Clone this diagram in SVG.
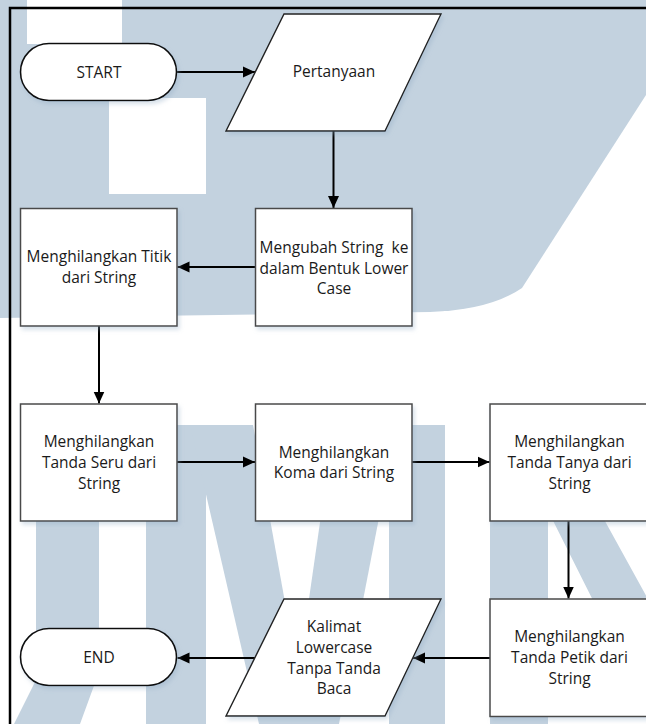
<svg xmlns="http://www.w3.org/2000/svg" width="646" height="724" viewBox="0 0 646 724">
  <style>
    .wm { fill: #c3d2df; }
    .wmw { fill: #ffffff; }
    .box { fill: #ffffff; stroke: #4a4a4a; stroke-width: 1.5; filter: url(#shade); }
    .term { fill: #ffffff; stroke: #111111; stroke-width: 1.6; filter: url(#shade); }
    .io { fill: #ffffff; stroke: #222222; stroke-width: 1.4; filter: url(#shade); }
    .lbl { font-family: "Open Sans", "Liberation Sans", sans-serif; font-size: 15.5px; fill: #1a1a1a; text-anchor: middle; }
    .conn path { fill: none; stroke: #000000; stroke-width: 2; marker-end: url(#arrow); }
  </style>
  <defs>
    <marker id="arrow" markerUnits="userSpaceOnUse" markerWidth="13" markerHeight="12" refX="12" refY="6" orient="auto">
      <path d="M0,0.5 L12,6 L0,11.5 Z" fill="#000000"/>
    </marker>
    <filter id="shade" x="-10%" y="-10%" width="125%" height="125%">
      <feDropShadow dx="2" dy="3" stdDeviation="2" flood-color="#8fa7c2" flood-opacity="0.35"/>
    </filter>
  </defs>

  <!-- background watermark -->
  <rect x="0" y="0" width="646" height="724" class="wmw"/>
  <g id="watermark">
    <path class="wm" d="M0,0 H646 V95 L522,288 Q490,310 430,312 L0,318 Z"/>
    <rect class="wmw" x="27" y="0" width="95" height="44"/>
    <rect class="wmw" x="109" y="98" width="97" height="96"/>
    <path class="wm" d="M36,425 H99 V672 L80,724 H14 L36,680 Z"/>
    <rect class="wm" x="146" y="425" width="60" height="299"/>
    <path class="wm" d="M190,425 H253 L307,724 H259 Z"/>
    <path class="wm" d="M334,425 H397 L339,724 H291 Z"/>
    <rect class="wm" x="389" y="425" width="56" height="299"/>
    <rect class="wm" x="490" y="425" width="58" height="299"/>
    <path class="wm" d="M505,425 H552 L654,610 V724 H655 Z"/>
  </g>

  <!-- page frame -->
  <path d="M10,724 V8 H646" fill="none" stroke="#000000" stroke-width="2.5"/>

  <g class="conn" id="connectors">
    <path d="M177,72 H255"/>
    <path d="M333.5,131 V208"/>
    <path d="M255.5,267 H177.5"/>
    <path d="M99,326 V403.5"/>
    <path d="M177,462 H255"/>
    <path d="M412,462 H489.5"/>
    <path d="M568.5,521 V598.5"/>
    <path d="M490,658 H413"/>
    <path d="M255,658 H177.5"/>
  </g>

  <g id="start">
    <rect class="term" x="20.5" y="43.5" width="156" height="57" rx="28.5"/>
    <text class="lbl" x="99" y="78">START</text>
  </g>

  <g id="pertanyaan">
    <polygon class="io" points="284,14 441,14 385,131 226,131"/>
    <text class="lbl" x="334" y="77">Pertanyaan</text>
  </g>

  <g id="mengubah">
    <rect class="box" x="255.5" y="208.5" width="156.5" height="117.5"/>
    <text class="lbl" x="334" y="253" xml:space="preserve">Mengubah String  ke</text>
    <text class="lbl" x="334" y="273.5">dalam Bentuk Lower</text>
    <text class="lbl" x="334" y="294">Case</text>
  </g>

  <g id="titik">
    <rect class="box" x="20.5" y="208.5" width="156.5" height="117.5"/>
    <text class="lbl" x="99" y="262">Menghilangkan Titik</text>
    <text class="lbl" x="99" y="283">dari String</text>
  </g>

  <g id="seru">
    <rect class="box" x="20.5" y="404" width="156.5" height="117"/>
    <text class="lbl" x="99" y="447">Menghilangkan</text>
    <text class="lbl" x="99" y="468">Tanda Seru dari</text>
    <text class="lbl" x="99" y="489">String</text>
  </g>

  <g id="koma">
    <rect class="box" x="255.5" y="404" width="156.5" height="117"/>
    <text class="lbl" x="334" y="457.5">Menghilangkan</text>
    <text class="lbl" x="334" y="478">Koma dari String</text>
  </g>

  <g id="tanya">
    <rect class="box" x="490" y="404" width="157" height="117"/>
    <text class="lbl" x="569.5" y="447">Menghilangkan</text>
    <text class="lbl" x="569.5" y="468">Tanda Tanya dari</text>
    <text class="lbl" x="569.5" y="489">String</text>
  </g>

  <g id="petik">
    <rect class="box" x="490" y="599" width="157" height="117.5"/>
    <text class="lbl" x="569.5" y="642">Menghilangkan</text>
    <text class="lbl" x="569.5" y="663">Tanda Petik dari</text>
    <text class="lbl" x="569.5" y="683.5">String</text>
  </g>

  <g id="kalimat">
    <polygon class="io" points="284,599 441,599 385,716 226,716"/>
    <text class="lbl" x="334" y="632">Kalimat</text>
    <text class="lbl" x="334" y="653">Lowercase</text>
    <text class="lbl" x="334" y="674">Tanpa Tanda</text>
    <text class="lbl" x="334" y="694">Baca</text>
  </g>

  <g id="end">
    <rect class="term" x="20.5" y="628.5" width="156" height="57" rx="28.5"/>
    <text class="lbl" x="99" y="663">END</text>
  </g>
</svg>
